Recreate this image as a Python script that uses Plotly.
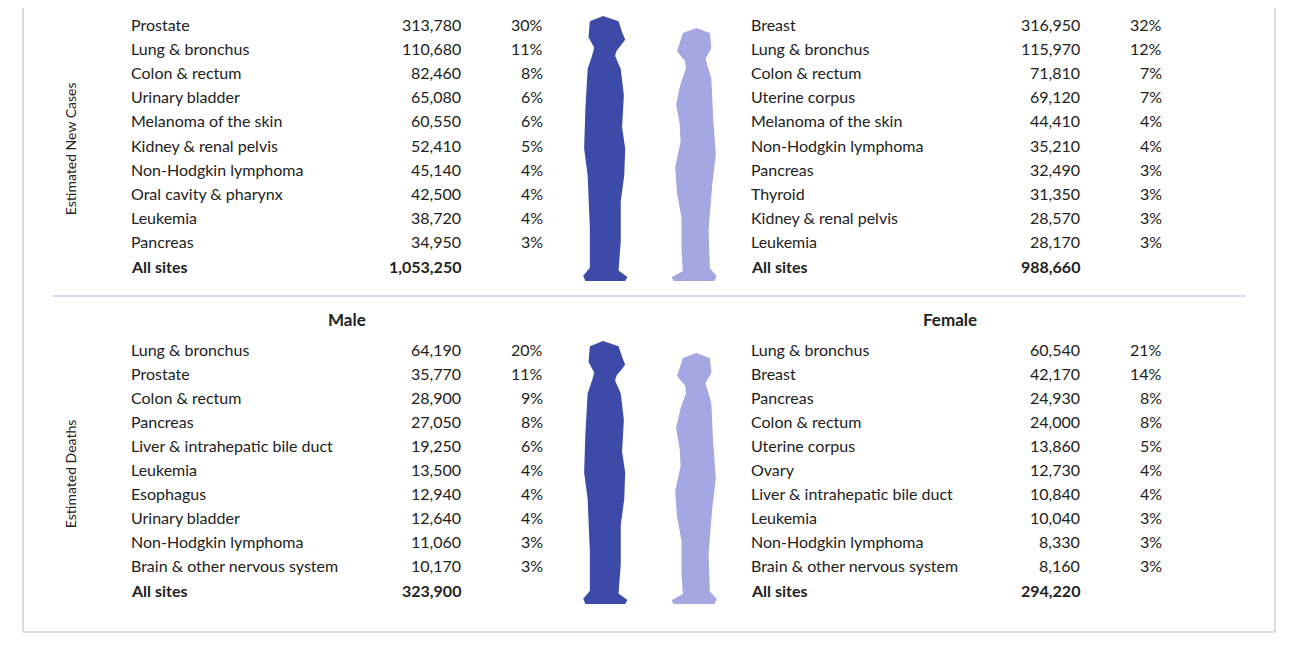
import plotly.graph_objects as go

new_male_sites = ["Prostate","Lung & bronchus","Colon & rectum","Urinary bladder","Melanoma of the skin","Kidney & renal pelvis","Non-Hodgkin lymphoma","Oral cavity & pharynx","Leukemia","Pancreas"]
new_male_vals = ["313,780","110,680","82,460","65,080","60,550","52,410","45,140","42,500","38,720","34,950"]
new_male_pct = ["30%","11%","8%","6%","6%","5%","4%","4%","4%","3%"]
new_male_all = "1,053,250"
new_female_sites = ["Breast","Lung & bronchus","Colon & rectum","Uterine corpus","Melanoma of the skin","Non-Hodgkin lymphoma","Pancreas","Thyroid","Kidney & renal pelvis","Leukemia"]
new_female_vals = ["316,950","115,970","71,810","69,120","44,410","35,210","32,490","31,350","28,570","28,170"]
new_female_pct = ["32%","12%","7%","7%","4%","4%","3%","3%","3%","3%"]
new_female_all = "988,660"
death_male_sites = ["Lung & bronchus","Prostate","Colon & rectum","Pancreas","Liver & intrahepatic bile duct","Leukemia","Esophagus","Urinary bladder","Non-Hodgkin lymphoma","Brain & other nervous system"]
death_male_vals = ["64,190","35,770","28,900","27,050","19,250","13,500","12,940","12,640","11,060","10,170"]
death_male_pct = ["20%","11%","9%","8%","6%","4%","4%","4%","3%","3%"]
death_male_all = "323,900"
death_female_sites = ["Lung & bronchus","Breast","Pancreas","Colon & rectum","Uterine corpus","Ovary","Liver & intrahepatic bile duct","Leukemia","Non-Hodgkin lymphoma","Brain & other nervous system"]
death_female_vals = ["60,540","42,170","24,930","24,000","13,860","12,730","10,840","10,040","8,330","8,160"]
death_female_pct = ["21%","14%","8%","8%","5%","4%","4%","3%","3%","3%"]
death_female_all = "294,220"

FONT = "Lato"
TXT = "#222222"
MALE_C = "#3d4aa8"
FEMALE_C = "#a4a7e2"

fig = go.Figure()
ann = []
shapes = []

def add(x, y, t, anchor="left", bold=False, size=16):
    ann.append(dict(x=x, y=y, text=f"<b>{t}</b>" if bold else t, showarrow=False,
                    xanchor=anchor, yanchor="middle", font=dict(family=FONT, size=size, color=TXT)))

def block(x0, y0, step, sites, vals, pct, allv, numx, pctx):
    for i, (s, v, p) in enumerate(zip(sites, vals, pct)):
        y = y0 + i * step
        add(x0, y, s)
        add(numx, y, v, "right")
        add(pctx, y, p, "right")
    y = y0 + len(sites) * step
    add(x0, y, "All sites", bold=True)
    add(numx, y, allv, "right", bold=True)

block(131, 25, 24.2, new_male_sites, new_male_vals, new_male_pct, new_male_all, 463, 545)
block(748, 25, 24.2, new_female_sites, new_female_vals, new_female_pct, new_female_all, 1080, 1162)
block(131, 350, 24.1, death_male_sites, death_male_vals, death_male_pct, death_male_all, 463, 545)
block(748, 350, 24.1, death_female_sites, death_female_vals, death_female_pct, death_female_all, 1080, 1162)
add(348, 320, "Male", "center", bold=True, size=17)
add(948, 320, "Female", "center", bold=True, size=17)
add(348, 0, "Male", "center", bold=True, size=17)
add(948, 0, "Female", "center", bold=True, size=17)
for y, t in [(150, "Estimated New Cases"), (475, "Estimated Deaths")]:
    ann.append(dict(x=72, y=y, text=t, textangle=-90, showarrow=False, xanchor="center", yanchor="middle",
                    font=dict(family=FONT, size=14, color=TXT)))

body = [(0.25,0.12),(0.12,0.08),(0.15,0.02),(0.45,0.0),(0.8,0.02),(0.88,0.06),(0.95,0.09),(0.86,0.11),(0.76,0.13),
        (0.72,0.15),(0.85,0.2),(0.92,0.3),(0.88,0.42),(0.95,0.5),(0.93,0.6),(0.85,0.7),(0.85,0.85),(0.8,0.96),
        (1.0,0.985),(0.95,1.0),(0.05,1.0),(0.0,0.98),(0.15,0.95),(0.15,0.8),(0.1,0.6),(0.02,0.5),(0.05,0.35),(0.1,0.2),(0.2,0.15)]
fbody = [(0.25,0.12),(0.12,0.08),(0.15,0.02),(0.45,0.0),(0.75,0.02),(0.82,0.06),(0.88,0.09),(0.8,0.11),(0.7,0.13),
         (0.68,0.16),(0.8,0.22),(0.9,0.3),(0.82,0.38),(0.8,0.45),(0.92,0.55),(0.88,0.65),(0.78,0.75),(0.78,0.88),(0.75,0.96),
         (1.0,0.985),(0.95,1.0),(0.05,1.0),(0.0,0.98),(0.15,0.95),(0.18,0.8),(0.1,0.62),(0.02,0.5),(0.08,0.35),(0.12,0.2),(0.2,0.15)]

def sil(pts, x0, y0, w, h, color, mirror=False):
    p = []
    for i, (a, b) in enumerate(pts):
        a = 1 - a if mirror else a
        p.append(("M" if i == 0 else "L") + f"{x0 + a*w:.1f},{y0 + b*h:.1f}")
    shapes.append(dict(type="path", path=" ".join(p) + " Z", fillcolor=color, line=dict(width=0), layer="above"))

for yt, hh in [(17, 265), (342, 263)]:
    sil(body, 583, yt, 44, hh, MALE_C)
    sil(fbody, 671, yt + 12, 45, hh - 12, FEMALE_C, mirror=True)

shapes.append(dict(type="line", x0=55, x1=1243, y0=297, y1=297, line=dict(color="#c5ccf0", width=1.5)))
shapes.append(dict(type="rect", x0=25, x1=1272, y0=-20, y1=633, line=dict(color="#bbbbbb", width=1)))

fig.update_layout(width=1300, height=650, margin=dict(l=0, r=0, t=0, b=0),
                  plot_bgcolor="white", paper_bgcolor="white", annotations=ann, shapes=shapes,
                  xaxis=dict(range=[10, 1305], visible=False, fixedrange=True),
                  yaxis=dict(range=[659, 9], visible=False, fixedrange=True), showlegend=False)
fig.write_html("out.html")
